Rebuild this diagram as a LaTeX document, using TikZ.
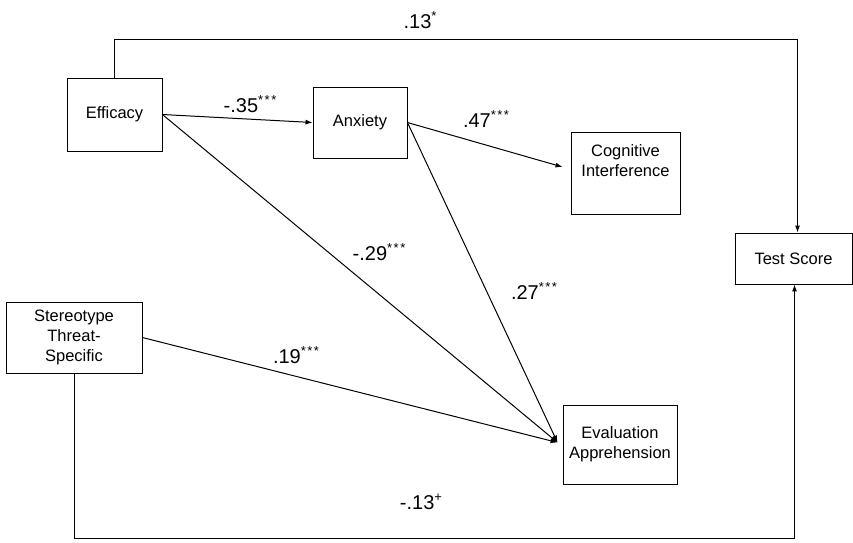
\documentclass[tikz,border=0pt]{standalone}
\usepackage{fontspec}
\setmainfont{Liberation Sans}
\usetikzlibrary{arrows.meta}
\newcommand\mysig[1]{\raisebox{0.42em}{\fontsize{13}{13}\selectfont #1}}
\newcommand\threestars{\mysig{*\kern1.5pt*\kern1.5pt*}}
\begin{document}
\begin{tikzpicture}[x=1pt,y=-1pt,
  box/.style={draw,line width=0.9pt,align=center,inner sep=0pt,font=\fontsize{16.5}{20}\selectfont},
  lab/.style={font=\fontsize{20}{22}\selectfont,inner sep=1pt},
  conn/.style={line width=1pt},
  arr/.style={conn,-{Latex[length=7pt,width=5pt]}}]
\useasboundingbox (0,0) rectangle (853,542);
\node[box,minimum width=95pt,minimum height=73pt] (eff) at (114.5,114.5) {Efficacy};
\node[box,minimum width=94pt,minimum height=71pt] (anx) at (360,122.5) {Anxiety};
\node[box,minimum width=109pt,minimum height=82pt] (cog) at (625.5,173) {Cognitive\\Interference\\[4pt]};
\node[box,minimum width=117pt,minimum height=51pt] (ts) at (793.5,258.5) {Test Score};
\node[box,minimum width=136pt,minimum height=71pt] (st) at (74,337.5) {Stereotype\\Threat-\\Specific};
\node[box,minimum width=114pt,minimum height=79pt] (ev) at (620,444.5) {Evaluation\\Apprehension};
\coordinate (evin) at ([xshift=-5pt,yshift=2pt]ev.west);
\coordinate (cogin) at ([xshift=-8pt,yshift=6pt]cog.west);
\coordinate (toptl) at (eff.north |- 0,39);
\coordinate (toptr) at ([xshift=4pt]ts.north |- 0,39);
\coordinate (botl) at (st.south |- 0,538);
\coordinate (botr) at ([xshift=1pt]ts.south |- 0,538);
\draw[arr] (eff.east) -- (anx.west);
\draw[arr] (anx.east) -- (cogin);
\draw[arr] (eff.east) -- (evin);
\draw[arr] (anx.east) -- (evin);
\draw[arr] (st.east) -- (evin);
\draw[arr] (eff.north) -- (toptl) -- (toptr) -- ([xshift=4pt]ts.north);
\draw[arr] (st.south) -- (botl) -- (botr) -- ([xshift=1pt]ts.south);
\node[lab] (l13a) at (420,20) {.13\mysig{*}};
\node[lab] (l35) at (250,104) {-.35\threestars};
\node[lab] (l47) at (486,119) {.47\threestars};
\node[lab] (l29) at (379,252) {-.29\threestars};
\node[lab] (l27) at (534,291) {.27\threestars};
\node[lab] (l19) at (296,355) {.19\threestars};
\node[lab] (l13b) at (421,502) {-.13\mysig{+}};
\end{tikzpicture}
\end{document}
